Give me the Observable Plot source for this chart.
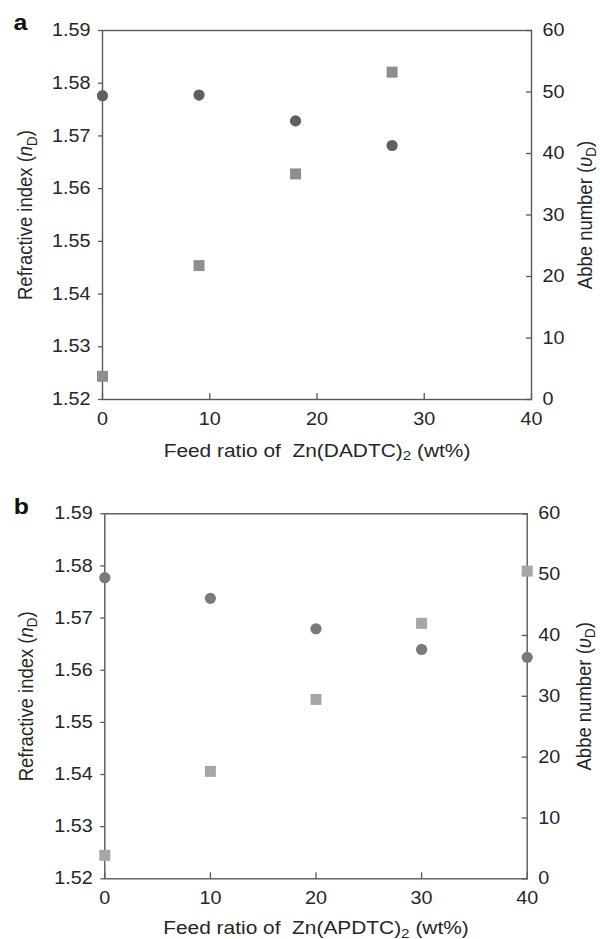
<!DOCTYPE html>
<html><head><meta charset="utf-8">
<script src="https://cdn.jsdelivr.net/npm/d3@7"></script>
<script src="https://cdn.jsdelivr.net/npm/@observablehq/plot@0.6"></script>
<style>body{margin:0;background:#fff;} #chart svg{display:block;}</style>
</head><body><div id="chart"></div>
<script>
// Panel a: Zn(DADTC)2
const feedA = [0, 9, 18, 27];
const nA = [1.5244, 1.5454, 1.5628, 1.5821];      // squares, left axis
const abbeA = [49.4, 49.5, 45.3, 41.3];           // circles, right axis
// Panel b: Zn(APDTC)2
const feedB = [0, 10, 20, 30, 40];
const nB = [1.5245, 1.5406, 1.5544, 1.5690, 1.5790];
const abbeB = [49.5, 46.1, 41.1, 37.7, 36.4];
// Tick labels
const xTicks = [0, 10, 20, 30, 40];
const nTicks = [1.52, 1.53, 1.54, 1.55, 1.56, 1.57, 1.58, 1.59];
const abbeTicks = [0, 10, 20, 30, 40, 50, 60];
const nDomain = [1.52, 1.59];
const abbeDomain = [0, 60];

const toN = d3.scaleLinear(abbeDomain, nDomain);
const font = "'Liberation Sans', Arial, sans-serif";
const STRETCH = 1.13;

function panel(cfg) {
  const rowsN = cfg.feed.map((f, i) => ({feed: f, n: cfg.n[i]}));
  const rowsA = cfg.feed.map((f, i) => ({feed: f, abbe: cfg.abbe[i]}));
  const xLabel = `Feed ratio of  ${cfg.compound}2 (wt%)`;
  const ax = {stroke: "#595959", strokeWidth: 1.3, fontSize: 17.5, fill: "#262626", labelArrow: "none", labelAnchor: "center"};
  const svg = Plot.plot({
    width: 600,
    height: cfg.height,
    marginTop: cfg.mt, marginBottom: cfg.mb, marginLeft: cfg.ml, marginRight: cfg.mr,
    style: {fontFamily: font, fontSize: "17.5px", color: "#262626", background: "#fff"},
    x: {domain: [0, 40]},
    y: {domain: nDomain},
    marks: [
      Plot.frame({stroke: "#595959", strokeWidth: 1.4}),
      Plot.axisX(xTicks, {...ax, tickSize: -6, tickPadding: 19, label: xLabel, labelOffset: cfg.xo}),
      Plot.axisY(nTicks, {...ax, anchor: "left", tickSize: 4, tickPadding: 8, tickFormat: d3.format(".2f"),
        label: "Refractive index (nD)", labelOffset: cfg.lo}),
      Plot.axisY(abbeTicks.map(toN), {...ax, anchor: "right", tickSize: -6, tickPadding: 17,
        tickFormat: d => String(Math.round(toN.invert(d))),
        label: "Abbe number (υD)", labelOffset: cfg.ro}),
      Plot.dot(rowsN, {x: "feed", y: "n", symbol: "square", r: 6.2, fill: cfg.sq, stroke: "none"}),
      Plot.dot(rowsA, {x: "feed", y: d => toN(d.abbe), symbol: "circle", r: 5.6, fill: cfg.ci, stroke: "none"}),
      Plot.text([cfg.letter], {frameAnchor: "top-left", text: d => d, textAnchor: "start", lineAnchor: "bottom",
        dx: cfg.ldx, dy: cfg.ldy, fontSize: 22, fontWeight: "bold", fill: "#111"})
    ]
  });
  // rich text for axis titles (italic / subscript)
  const rich = (plain, parts) => {
    d3.select(svg).selectAll("text").filter(function () { return this.textContent === plain; })
      .each(function () {
        const t = d3.select(this);
        t.text(null).attr("font-size", "18.5px");
        parts.forEach(p => {
          const ts = t.append("tspan").text(p.t);
          if (p.i) ts.attr("font-style", "italic");
          if (p.s) ts.attr("baseline-shift", "-3.5").attr("font-size", "13.5px");
        });
      });
  };
  rich(xLabel, [{t: `Feed ratio of  ${cfg.compound}`}, {t: "2", s: true}, {t: " (wt%)"}]);
  rich("Refractive index (nD)", [{t: "Refractive index ("}, {t: "n", i: true}, {t: "D", s: true}, {t: ")"}]);
  rich("Abbe number (υD)", [{t: "Abbe number ("}, {t: "υ", i: true}, {t: "D", s: true}, {t: ")"}]);
  // the reference lettering is horizontally wide: stretch each text about its anchor
  d3.select(svg).selectAll("text").each(function () {
    const tr = this.getAttribute("transform");
    if (tr && /^\s*translate\(/.test(tr)) {
      this.setAttribute("transform", tr.replace(/^\s*(translate\([^)]*\))/, `$1 scale(${STRETCH},1)`));
    } else {
      const x = +this.getAttribute("x") || 0, y = +this.getAttribute("y") || 0;
      this.removeAttribute("x"); this.removeAttribute("y");
      this.setAttribute("transform", `translate(${x},${y}) scale(${STRETCH},1)${tr ? " " + tr : ""}`);
    }
  });
  return svg;
}

const root = document.getElementById("chart");
root.append(panel({
  feed: feedA, n: nA, abbe: abbeA, compound: "Zn(DADTC)", letter: "a",
  height: 469, mt: 30, mb: 70, ml: 102, mr: 69, lo: 85, ro: 60, xo: 57,
  sq: "#8e8e8e", ci: "#5f5f5f", ldx: -89, ldy: -1
}));
root.append(panel({
  feed: feedB, n: nB, abbe: abbeB, compound: "Zn(APDTC)", letter: "b",
  height: 470, mt: 44.3, mb: 60.7, ml: 104.3, mr: 73.3, lo: 87, ro: 64, xo: 55,
  sq: "#a6a6a6", ci: "#7a7a7a", ldx: -91, ldy: 0
}));
</script>
</body></html>
